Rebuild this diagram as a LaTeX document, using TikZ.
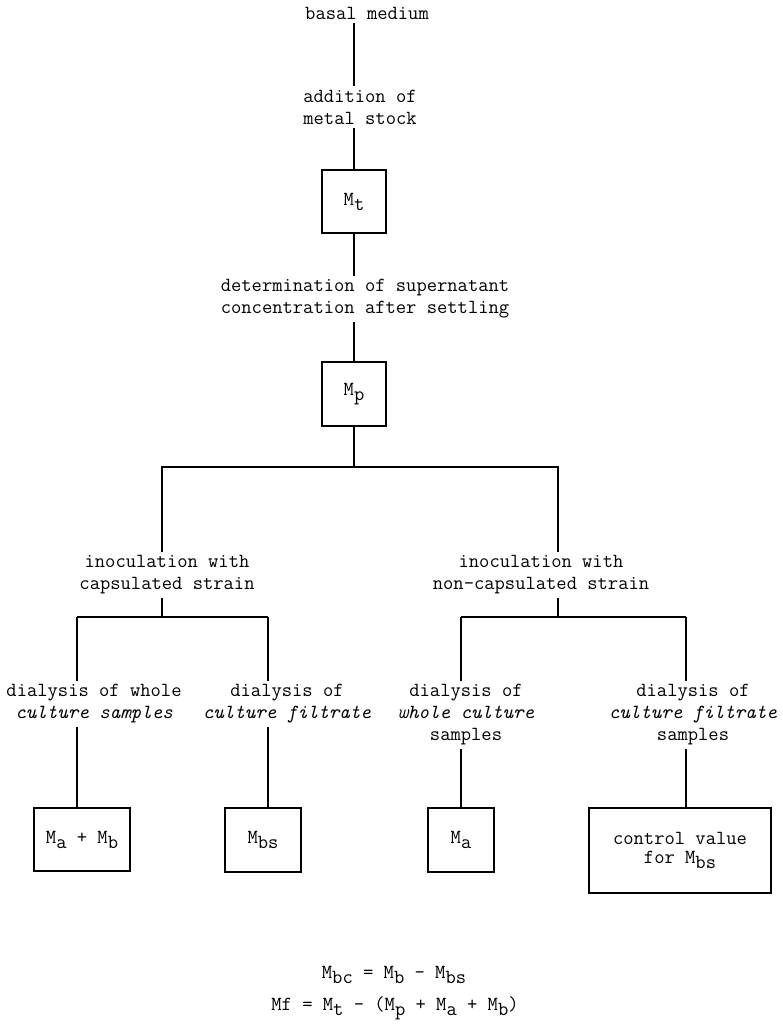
\documentclass[tikz,border=0pt]{standalone}
\usetikzlibrary{calc}

\newcommand{\lowr}[1]{\raisebox{-5pt}{#1}}

\begin{document}
\begin{tikzpicture}[x=1pt, y=-1pt, line width=1.2pt,
  every node/.style={font=\ttfamily\fontsize{20}{22}\selectfont, align=center, inner xsep=0pt, inner ysep=3pt},
  valbox/.style={draw, inner sep=0pt}]

\useasboundingbox (0,0) rectangle (782,1027);

% Draw the main stem
\node (basal) at (367,13) {basal medium};
\node (addit) at (360,107) {addition of\\metal stock};
\node[valbox, minimum width=64pt, minimum height=63pt] (Mt) at (354,201.5) {M\lowr{t}};
\node (determ) at (365,299) {determination of supernatant\\concentration after settling};
\node[valbox, minimum width=64pt, minimum height=64pt] (Mp) at (354,394) {M\lowr{p}};

\draw (basal.south -| Mt) -- (addit.north -| Mt);
\draw (addit.south -| Mt) -- (Mt.north);
\draw (Mt.south) -- (determ.north -| Mt);
\draw (determ.south -| Mt) -- (Mp.north);

% Split into the two strains
\node (inocA) at (167,575) {inoculation with\\capsulated strain};
\node (inocB) at (541,575) {inoculation with\\non-capsulated strain};

\coordinate (brL) at (162,467);
\coordinate (brR) at (558,467);
\draw (Mp.south) -- (Mp |- brL);
\draw (brL |- inocA.north) -- (brL) -- (brR) -- (brR |- inocB.north);

% Dialysis steps
\node (dialA) at (94,704) {dialysis of whole\\\textit{culture samples}};
\node (dialB) at (287,704) {dialysis of\\\textit{culture filtrate}};
\node (dialC) at (466,715) {dialysis of\\\textit{whole culture}\\samples};
\node (dialD) at (693,715) {dialysis of\\\textit{culture filtrate}\\samples};

\coordinate (legA) at (77,617);
\coordinate (legB) at (268,617);
\coordinate (legC) at (461,617);
\coordinate (legD) at (686,617);
\draw (inocA.south -| brL) -- (brL |- legA);
\draw (inocB.south -| brR) -- (brR |- legC);
\draw (legA) -- (legB);
\draw (legC) -- (legD);

% Measured values
\node[valbox, minimum width=96pt, minimum height=63pt] (MaMb) at (82,839.5) {M\lowr{a} + M\lowr{b}};
\node[valbox, minimum width=76pt, minimum height=64pt] (Mbs) at (263,840) {M\lowr{bs}};
\node[valbox, minimum width=66pt, minimum height=64pt] (Ma) at (461,840) {M\lowr{a}};
\node[valbox, minimum width=182pt, minimum height=85pt, font=\ttfamily\fontsize{20}{19}\selectfont] (ctrl) at (680,850.5) {control value\\for M\lowr{bs}};

\foreach \leg/\txt/\res in {legA/dialA/MaMb, legB/dialB/Mbs, legC/dialC/Ma, legD/dialD/ctrl}
  \draw (\leg) -- (\leg |- \txt.north) (\txt.south -| \leg) -- (\leg |- \res.north);

% Balance equations
\node (fbc) at (394,975) {M\lowr{bc} = M\lowr{b} - M\lowr{bs}};
\node (ff) at (395,1008) {Mf = M\lowr{t} - (M\lowr{p} + M\lowr{a} + M\lowr{b})};

\end{tikzpicture}
\end{document}
